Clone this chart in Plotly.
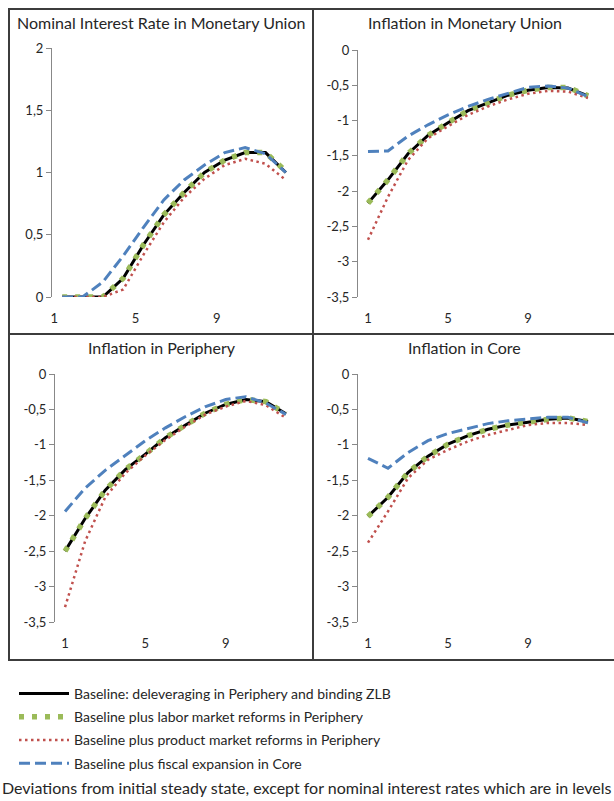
import plotly.graph_objects as go

W, H = 614, 801

# ---------------- data ----------------
periods = list(range(1, 13))
x_tick_vals = [1, 5, 9]
x_tick_text = ["1", "5", "9"]

series_names = [
    "Baseline: deleveraging in Periphery and binding ZLB",
    "Baseline plus labor market reforms in Periphery",
    "Baseline plus product market reforms in Periphery",
    "Baseline plus fiscal expansion in Core",
]

panel_titles = [
    "Nominal Interest Rate in Monetary Union",
    "Inflation in Monetary Union",
    "Inflation in Periphery",
    "Inflation in Core",
]

# Nominal interest rate in monetary union
rate_baseline = [0, 0, 0, 0.15, 0.42, 0.66, 0.84, 1.00, 1.10, 1.16, 1.16, 1.00]
rate_labor    = [0, 0, 0, 0.15, 0.42, 0.66, 0.84, 1.00, 1.10, 1.16, 1.16, 1.01]
rate_product  = [0, 0, 0, 0.06, 0.34, 0.60, 0.80, 0.95, 1.06, 1.11, 1.07, 0.94]
rate_fiscal   = [0, 0, 0.12, 0.33, 0.56, 0.78, 0.94, 1.06, 1.16, 1.20, 1.15, 1.00]

# Inflation in monetary union
mu_baseline = [-2.17, -1.84, -1.47, -1.21, -1.03, -0.86, -0.75, -0.64, -0.57, -0.53, -0.54, -0.65]
mu_labor    = [-2.17, -1.84, -1.47, -1.21, -1.03, -0.86, -0.75, -0.64, -0.57, -0.53, -0.53, -0.65]
mu_product  = [-2.69, -2.08, -1.56, -1.25, -1.08, -0.92, -0.80, -0.70, -0.62, -0.58, -0.59, -0.68]
mu_fiscal   = [-1.44, -1.43, -1.22, -1.06, -0.92, -0.80, -0.70, -0.61, -0.53, -0.51, -0.54, -0.66]

# Inflation in periphery
per_baseline = [-2.50, -2.04, -1.64, -1.35, -1.13, -0.90, -0.72, -0.55, -0.43, -0.36, -0.39, -0.56]
per_labor    = [-2.50, -2.04, -1.64, -1.35, -1.13, -0.90, -0.72, -0.55, -0.43, -0.36, -0.39, -0.56]
per_product  = [-3.29, -2.36, -1.74, -1.40, -1.15, -0.93, -0.74, -0.57, -0.46, -0.38, -0.44, -0.62]
per_fiscal   = [-1.94, -1.61, -1.36, -1.15, -0.94, -0.76, -0.60, -0.46, -0.36, -0.32, -0.41, -0.57]

# Inflation in core
core_baseline = [-2.01, -1.74, -1.39, -1.16, -0.99, -0.87, -0.78, -0.72, -0.68, -0.64, -0.62, -0.67]
core_labor    = [-2.01, -1.74, -1.39, -1.16, -0.99, -0.87, -0.78, -0.72, -0.68, -0.64, -0.62, -0.67]
core_product  = [-2.38, -1.94, -1.47, -1.21, -1.07, -0.95, -0.86, -0.79, -0.72, -0.69, -0.69, -0.72]
core_fiscal   = [-1.19, -1.33, -1.11, -0.94, -0.84, -0.77, -0.70, -0.66, -0.63, -0.61, -0.61, -0.69]

rate_y_vals = [0, 0.5, 1, 1.5, 2]
rate_y_text = ["0", "0,5", "1", "1,5", "2"]
infl_y_vals = [0, -0.5, -1, -1.5, -2, -2.5, -3, -3.5]
infl_y_text = ["0", "-0,5", "-1", "-1,5", "-2", "-2,5", "-3", "-3,5"]

panels_data = [
    [rate_baseline, rate_labor, rate_product, rate_fiscal],
    [mu_baseline, mu_labor, mu_product, mu_fiscal],
    [per_baseline, per_labor, per_product, per_fiscal],
    [core_baseline, core_labor, core_product, core_fiscal],
]

# ---------------- styles ----------------
FONT = "Lato"
TXT = "#262626"
AXC = "#888888"
styles = [
    dict(color="#000000", width=3, dash="solid"),
    dict(color="#9BBB59", width=5.5, dash="5px,8px"),
    dict(color="#C0504D", width=2.5, dash="2.5px,3.5px"),
    dict(color="#4F81BD", width=3, dash="11px,5px"),
]

def fx(px):
    return px / W

def fy(px):
    return 1 - px / H

# plot areas in pixels: (x0, x1, ytop, ybottom)
areas = [(52, 296, 48, 297), (358, 598, 50, 297), (55, 296, 374, 622), (358, 598, 374, 622)]
yranges = [[0, 2], [-3.5, 0], [-3.5, 0], [-3.5, 0]]
title_pos = [(161, 23), (465, 23), (162, 348), (464, 348)]

fig = go.Figure()
for p in range(4):
    xa = "x" if p == 0 else f"x{p+1}"
    ya = "y" if p == 0 else f"y{p+1}"
    for s in range(4):
        fig.add_trace(go.Scatter(
            x=periods, y=panels_data[p][s], mode="lines",
            name=series_names[s], legendgroup=f"g{s}", showlegend=(p == 0),
            line=styles[s], xaxis=xa, yaxis=ya, hoverinfo="skip",
        ))

layout = dict(
    width=W, height=H, autosize=False,
    margin=dict(l=0, r=0, t=0, b=0, pad=0, autoexpand=False),
    paper_bgcolor="white", plot_bgcolor="white",
    font=dict(family=FONT, color=TXT, size=13),
    showlegend=True,
    legend=dict(
        x=fx(14), y=fy(678), xanchor="left", yanchor="top",
        bgcolor="rgba(0,0,0,0)", font=dict(family=FONT, size=14, color=TXT),
        traceorder="grouped", tracegroupgap=2, itemwidth=50,
    ),
)

for p in range(4):
    x0, x1, yt, yb = areas[p]
    n = "" if p == 0 else str(p + 1)
    layout[f"xaxis{n}"] = dict(
        domain=[fx(x0), fx(x1)], anchor=f"y{n}", range=[0.5, 12.5],
        tickvals=x_tick_vals, ticktext=x_tick_text,
        ticks="outside", ticklen=9, tickcolor="rgba(0,0,0,0)",
        showline=False, showgrid=False, zeroline=False,
        tickfont=dict(family=FONT, size=13, color=TXT),
        ticklabelshift=(-8 if p == 0 else 0),
    )
    layout[f"yaxis{n}"] = dict(
        domain=[fy(yb), fy(yt)], anchor=f"x{n}", range=yranges[p],
        tickvals=rate_y_vals if p == 0 else infl_y_vals,
        ticktext=rate_y_text if p == 0 else infl_y_text,
        ticks="outside", ticklen=5, tickcolor=AXC,
        showline=True, linecolor=AXC, linewidth=1,
        showgrid=False, zeroline=False,
        tickfont=dict(family=FONT, size=13, color=TXT),
    )
    # axis line at value 0 with tick marks between category groups
    layout[f"xaxis{p+5}"] = dict(
        overlaying=f"x{n}", anchor=f"y{n}", side="bottom" if p == 0 else "top",
        range=[0.5, 12.5], tickvals=[0.5, 4.5, 8.5, 12.5],
        showticklabels=False, ticks="outside" if p == 0 else "inside",
        ticklen=5, tickcolor=AXC, showline=True, linecolor=AXC, linewidth=1,
        showgrid=False, zeroline=False, layer="below traces",
    )

annotations = []
for p in range(4):
    cx, cy = title_pos[p]
    annotations.append(dict(
        text=panel_titles[p], x=fx(cx), y=fy(cy), xref="paper", yref="paper",
        xanchor="center", yanchor="middle", showarrow=False,
        font=dict(family=FONT, size=16, color=TXT),
    ))
annotations.append(dict(
    text="Deviations from initial steady state, except for nominal interest rates which are in levels",
    x=fx(307), y=fy(787), xref="paper", yref="paper", xanchor="center", yanchor="middle",
    showarrow=False, font=dict(family=FONT, size=16, color=TXT),
))
layout["annotations"] = annotations

frame = dict(color="#3c3c3c", width=2)
layout["shapes"] = [
    dict(type="rect", xref="paper", yref="paper", x0=fx(9), x1=fx(618), y0=fy(660), y1=fy(9), line=frame),
    dict(type="line", xref="paper", yref="paper", x0=fx(313), x1=fx(313), y0=fy(660), y1=fy(9), line=frame),
    dict(type="line", xref="paper", yref="paper", x0=fx(9), x1=fx(618), y0=fy(334), y1=fy(334), line=frame),
]

fig.update_layout(**layout)
fig.write_html(
    "out.html",
    config={"displayModeBar": False},
    post_script="document.body.style.margin='0';document.body.style.overflow='hidden';",
)
